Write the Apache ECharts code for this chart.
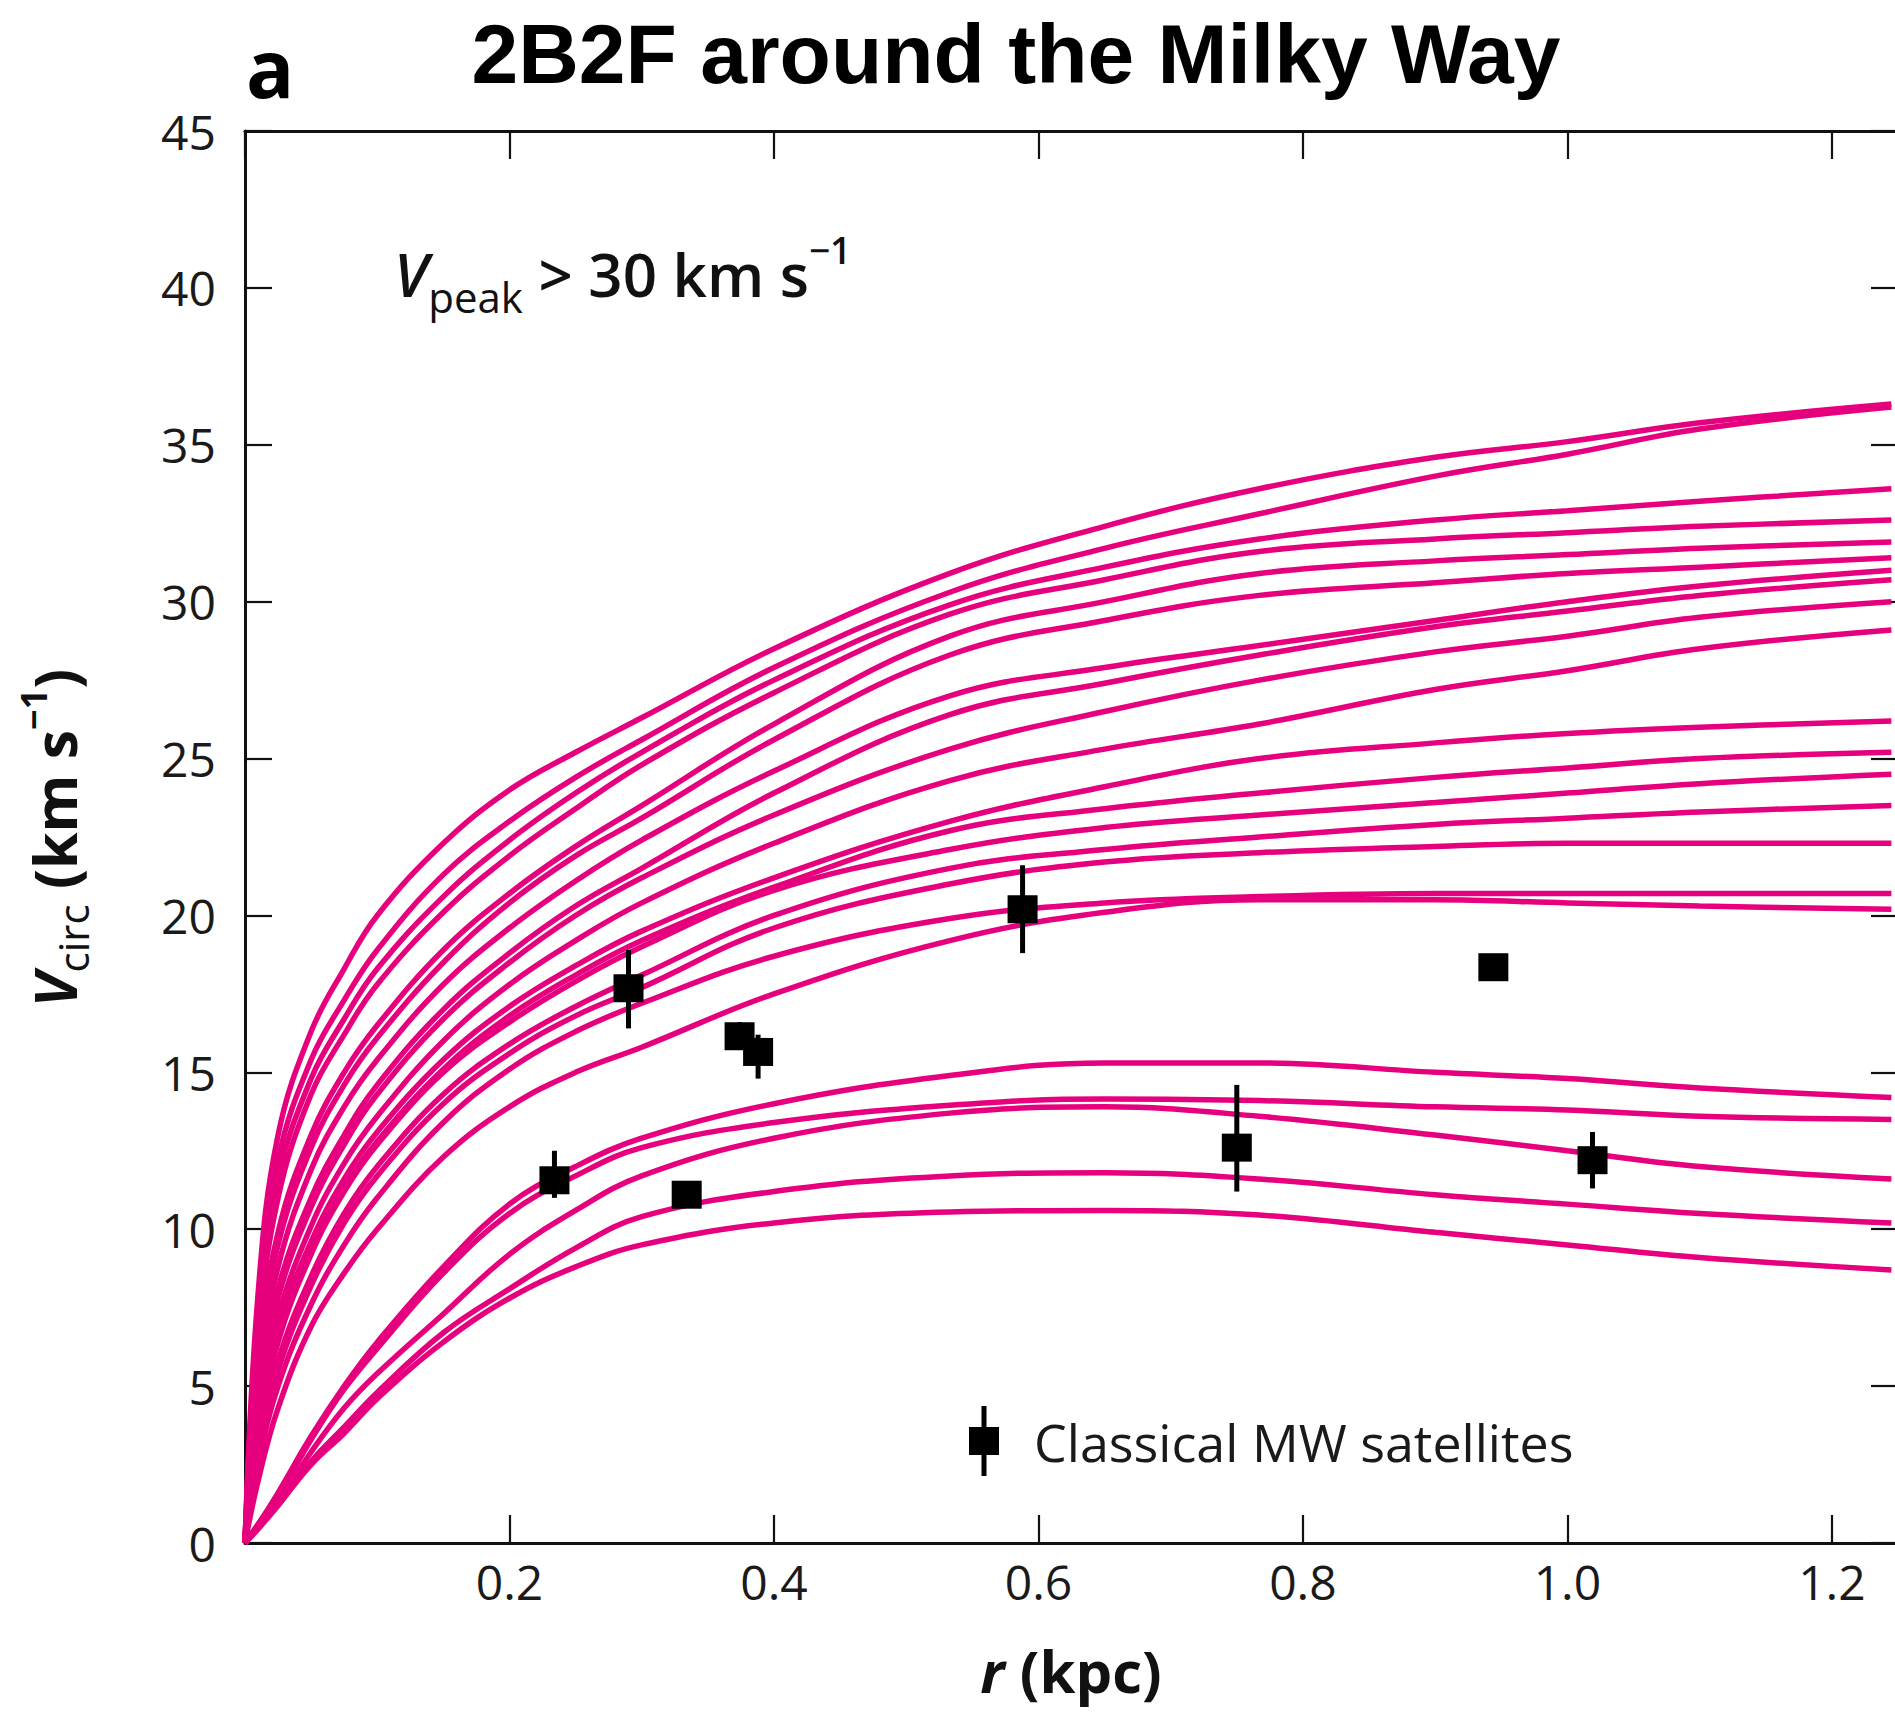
<!DOCTYPE html>
<html>
<head>
<meta charset="utf-8">
<script src="https://cdn.jsdelivr.net/npm/echarts@6/dist/echarts.min.js"></script>
<style>
html,body{margin:0;padding:0;background:#fff;}
#chart{width:1895px;height:1714px;}
</style>
</head>
<body>
<div id="chart"></div>
<script>
// ---- data ----
const TITLE = '2B2F around the Milky Way';
const xTicks = ['0.2', '0.4', '0.6', '0.8', '1.0', '1.2'];
const yTicks = ['0', '5', '10', '15', '20', '25', '30', '35', '40', '45'];

// radii (kpc) at which the circular-velocity curves were read
const R = [0, 0.01, 0.025, 0.05, 0.075, 0.1, 0.15, 0.2, 0.25, 0.3, 0.4, 0.533, 0.65, 0.767, 0.9, 1.0, 1.1, 1.245];

// Vcirc (km/s) of each subhalo curve at the radii above
const curveH1  = [0, 8.0, 13.0, 16.3, 18.3, 20.0, 22.3, 24.0, 25.2, 26.3, 28.5, 30.9, 32.4, 33.6, 34.6, 35.1, 35.7, 36.3];
const curveH2  = [0, 7.4, 12.2, 15.4, 17.3, 18.9, 21.3, 23.0, 24.4, 25.6, 27.9, 30.3, 31.7, 32.8, 34.0, 34.7, 35.5, 36.2];
const curveH3  = [0, 7.0, 11.6, 14.8, 16.7, 18.3, 20.6, 22.4, 23.9, 25.2, 27.5, 29.9, 31.1, 32.0, 32.6, 32.9, 33.2, 33.6];
const curveH4  = [0, 6.6, 11.0, 14.3, 16.2, 17.8, 20.1, 21.9, 23.4, 24.8, 27.1, 29.6, 30.7, 31.6, 32.0, 32.2, 32.4, 32.6];
const curveH5  = [0, 5.9, 9.9, 13.0, 15.0, 16.5, 18.9, 20.7, 22.2, 23.5, 26.1, 28.9, 30.0, 30.9, 31.3, 31.5, 31.7, 31.9];
const curveH6  = [0, 5.6, 9.5, 12.6, 14.6, 16.1, 18.5, 20.4, 21.9, 23.1, 25.6, 28.3, 29.4, 30.2, 30.6, 30.9, 31.1, 31.4];
const curveH7  = [0, 5.1, 8.8, 11.9, 13.9, 15.4, 17.8, 19.6, 21.1, 22.4, 24.6, 27.0, 27.9, 28.6, 29.4, 30.0, 30.5, 31.0];
const curveH8  = [0, 4.6, 8.1, 11.0, 13.0, 14.6, 17.0, 18.8, 20.3, 21.5, 23.9, 26.4, 27.4, 28.3, 29.2, 29.7, 30.2, 30.7];
const curveH9  = [0, 4.4, 7.8, 10.7, 12.7, 14.3, 16.7, 18.5, 20.0, 21.2, 23.2, 25.3, 26.5, 27.5, 28.4, 28.9, 29.5, 30.0];
const curveH10 = [0, 4.0, 7.2, 10.1, 12.1, 13.6, 16.0, 17.8, 19.2, 20.4, 22.3, 24.3, 25.3, 26.1, 27.2, 27.8, 28.5, 29.1];
const curveH11 = [0, 3.7, 6.8, 9.6, 11.6, 13.1, 15.4, 17.1, 18.4, 19.5, 21.2, 23.0, 24.1, 25.0, 25.5, 25.8, 26.0, 26.2];
const curveH12 = [0, 3.5, 6.5, 9.3, 11.3, 12.8, 15.1, 16.8, 18.1, 19.2, 20.9, 22.7, 23.4, 23.9, 24.4, 24.7, 25.0, 25.2];
const curveH13 = [0, 3.4, 6.4, 9.2, 11.2, 12.7, 15.0, 16.6, 17.9, 19.0, 20.8, 22.1, 22.8, 23.2, 23.6, 23.9, 24.2, 24.5];
const curveH14 = [0, 3.0, 5.8, 8.5, 10.5, 12.0, 14.3, 15.9, 17.1, 18.1, 20.0, 21.5, 22.1, 22.5, 22.9, 23.1, 23.3, 23.5];
const curveH15 = [0, 2.8, 5.5, 8.2, 10.2, 11.7, 14.0, 15.6, 16.8, 17.7, 19.6, 21.0, 21.7, 22.0, 22.2, 22.3, 22.3, 22.3];
const curveH16 = [0, 2.5, 5.0, 7.6, 9.5, 11.0, 13.4, 15.1, 16.3, 17.2, 18.7, 19.9, 20.4, 20.6, 20.7, 20.7, 20.7, 20.7];
const curveH17 = [0, 2.0, 4.3, 6.9, 8.6, 10.0, 12.3, 13.9, 15.0, 15.8, 17.5, 19.2, 20.1, 20.5, 20.5, 20.4, 20.3, 20.2];
const curveL1  = [0, 0.6, 1.6, 3.4, 5.0, 6.4, 8.8, 10.8, 12.0, 12.9, 14.0, 14.9, 15.3, 15.3, 15.0, 14.8, 14.5, 14.2];
const curveL2  = [0, 0.6, 1.5, 3.3, 4.9, 6.2, 8.6, 10.5, 11.7, 12.6, 13.4, 13.95, 14.15, 14.1, 13.9, 13.8, 13.6, 13.5];
const curveL3  = [0, 0.5, 1.3, 2.9, 4.3, 5.4, 7.3, 9.2, 10.6, 11.7, 12.9, 13.7, 13.9, 13.6, 13.0, 12.5, 12.0, 11.6];
const curveL4  = [0, 0.5, 1.2, 2.6, 3.7, 4.8, 6.7, 8.1, 9.4, 10.4, 11.2, 11.7, 11.8, 11.6, 11.1, 10.8, 10.5, 10.2];
const curveL5  = [0, 0.45, 1.2, 2.5, 3.5, 4.6, 6.4, 7.8, 8.8, 9.5, 10.2, 10.55, 10.6, 10.45, 9.9, 9.5, 9.1, 8.7];

const curves = [curveH1, curveH2, curveH3, curveH4, curveH5, curveH6, curveH7, curveH8, curveH9,
  curveH10, curveH11, curveH12, curveH13, curveH14, curveH15, curveH16, curveH17,
  curveL1, curveL2, curveL3, curveL4, curveL5];

// classical Milky Way satellites: radius, Vcirc, error-bar low, error-bar high
const satName = 'Classical MW satellites';
const satR  = [0.234, 0.290, 0.334, 0.374, 0.388, 0.588, 0.750, 0.944, 1.019];
const satV  = [11.56, 17.68, 11.10, 16.15, 15.65, 20.20, 12.60, 18.35, 12.20];
const satLo = [11.0, 16.4, 10.9, 15.9, 14.8, 18.8, 11.2, 18.2, 11.3];
const satHi = [12.5, 18.9, 11.4, 16.6, 16.2, 21.6, 14.6, 18.6, 13.1];

// ---- chart ----
const PINK = '#E6007E';
const FONT = '"Open Sans", "Noto Sans", sans-serif';
const chart = echarts.init(document.getElementById('chart'), null, {renderer: 'svg'});

const lineSeries = curves.map((v, k) => ({
  type: 'line',
  name: 'curve' + (k + 1),
  xAxisIndex: 0, yAxisIndex: 0,
  data: R.map((r, i) => [r, v[i]]),
  showSymbol: false,
  symbol: 'none',
  smooth: 0.4,
  lineStyle: {color: PINK, width: 5.5},
  itemStyle: {color: PINK},
  emphasis: {disabled: true},
  silent: true,
  z: 3
}));

const satData = satR.map((r, i) => [r, satV[i], satLo[i], satHi[i]]);

const satSeries = {
  type: 'custom',
  name: satName,
  xAxisIndex: 0, yAxisIndex: 0,
  data: satData,
  itemStyle: {color: '#000'},
  z: 10,
  renderItem: function (params, api) {
    const p = api.coord([api.value(0), api.value(1)]);
    const lo = api.coord([api.value(0), api.value(2)]);
    const hi = api.coord([api.value(0), api.value(3)]);
    return {
      type: 'group',
      children: [
        {type: 'line', shape: {x1: lo[0], y1: lo[1], x2: hi[0], y2: hi[1]},
         style: {stroke: '#000', lineWidth: 5}},
        {type: 'rect', shape: {x: p[0] - 15, y: p[1] - 14, width: 30, height: 28},
         style: {fill: '#000'}}
      ]
    };
  }
};

const xLabelFmt = function (v) {
  const s = Number(v).toFixed(1);
  return xTicks.indexOf(s) >= 0 && Math.abs(v - Number(s)) < 1e-6 ? s : '';
};
const yLabelFmt = function (v) {
  const s = String(Math.round(v));
  return yTicks.indexOf(s) >= 0 && Math.abs(v - Math.round(v)) < 1e-6 ? s : '';
};

const axisLineStyle = {color: '#111', width: 3};
const tickStyle = {color: '#111', width: 2.2};

const option = {
  backgroundColor: '#ffffff',
  animation: false,
  grid: {left: 245, top: 131, right: -3, bottom: 171, containLabel: false, outerBoundsMode: 'none', show: false},
  legend: {
    data: [{name: satName, icon: 'path://M12.5,0H17.5V21H12.5ZM0,21H30V49H0ZM12.5,49H17.5V70H12.5Z'}],
    left: 964, top: 1401,
    itemWidth: 30, itemHeight: 70,
    selectedMode: false,
    itemStyle: {color: '#000'},
    textStyle: {fontFamily: FONT, fontSize: 52, color: '#1a1a1a', padding: [12, 0, 0, 30]}
  },
  xAxis: [
    {type: 'value', position: 'bottom', min: 0, max: 1.25, interval: 0.2,
     axisLine: {show: true, onZero: false, lineStyle: axisLineStyle},
     axisTick: {show: true, inside: true, length: 28, lineStyle: tickStyle},
     axisLabel: {show: true, margin: 14, fontFamily: FONT, fontSize: 48, color: '#1a1a1a',
                 formatter: xLabelFmt, showMaxLabel: false},
     splitLine: {show: false}},
    {type: 'value', position: 'top', min: 0, max: 1.25, interval: 0.2,
     axisLine: {show: true, onZero: false, lineStyle: axisLineStyle},
     axisTick: {show: true, inside: true, length: 28, lineStyle: tickStyle},
     axisLabel: {show: false}, splitLine: {show: false}}
  ],
  yAxis: [
    {type: 'value', position: 'left', min: 0, max: 45, interval: 5,
     axisLine: {show: true, onZero: false, lineStyle: axisLineStyle},
     axisTick: {show: true, inside: true, length: 27, lineStyle: tickStyle},
     axisLabel: {show: true, margin: 29, fontFamily: FONT, fontSize: 48, color: '#1a1a1a',
                 formatter: yLabelFmt},
     splitLine: {show: false}},
    {type: 'value', position: 'right', min: 0, max: 45, interval: 5,
     axisLine: {show: true, onZero: false, lineStyle: axisLineStyle},
     axisTick: {show: true, inside: true, length: 27, lineStyle: tickStyle},
     axisLabel: {show: false}, splitLine: {show: false}}
  ],
  graphic: [
    {type: 'text', x: 1016, y: 54, z: 20,
     style: {text: TITLE, fontFamily: '"Liberation Sans", Arial, sans-serif', fontWeight: 'bold',
             fontSize: 84, fill: '#000', align: 'center', verticalAlign: 'middle'}},
    {type: 'text', x: 246, y: 66, z: 20,
     style: {text: 'a', fontFamily: FONT, fontWeight: 'bold', fontSize: 80, fill: '#000',
             align: 'left', verticalAlign: 'middle'}},
    {type: 'text', x: 394, y: 274, z: 20,
     style: {
       text: '{v|V}{s|peak}{m| > 30 km s}{p|−1}',
       align: 'left', verticalAlign: 'middle',
       rich: {
         v: {fontFamily: FONT, fontSize: 60, fontStyle: 'italic', fontWeight: 600, fill: '#111', lineHeight: 86},
         s: {fontFamily: FONT, fontSize: 42, fontWeight: 500, fill: '#111', lineHeight: 42, verticalAlign: 'bottom'},
         m: {fontFamily: FONT, fontSize: 60, fontWeight: 600, fill: '#111', lineHeight: 86},
         p: {fontFamily: FONT, fontSize: 37, fontWeight: 600, fill: '#111', lineHeight: 42, verticalAlign: 'top'}
       }
     }},
    {type: 'text', x: 54, y: 838, rotation: Math.PI / 2, z: 20,
     style: {
       text: '{v|V}{s|circ}{m| (km s}{p|−1}{m|)}',
       align: 'center', verticalAlign: 'middle',
       rich: {
         v: {fontFamily: FONT, fontSize: 59, fontStyle: 'italic', fontWeight: 'bold', fill: '#111', lineHeight: 78},
         s: {fontFamily: FONT, fontSize: 42, fontWeight: 'normal', fill: '#111', lineHeight: 40, verticalAlign: 'bottom'},
         m: {fontFamily: FONT, fontSize: 59, fontWeight: 'bold', fill: '#111', lineHeight: 78},
         p: {fontFamily: FONT, fontSize: 36, fontWeight: 'bold', fill: '#111', lineHeight: 48, verticalAlign: 'top'}
       }
     }},
    {type: 'text', x: 1071, y: 1670, z: 20,
     style: {
       text: '{i|r}{m| (kpc)}',
       align: 'center', verticalAlign: 'middle',
       rich: {
         i: {fontFamily: FONT, fontSize: 58, fontStyle: 'italic', fontWeight: 'bold', fill: '#111'},
         m: {fontFamily: FONT, fontSize: 58, fontWeight: 'bold', fill: '#111'}
       }
     }}
  ],
  series: lineSeries.concat([satSeries])
};
chart.setOption(option);
</script>
</body>
</html>
